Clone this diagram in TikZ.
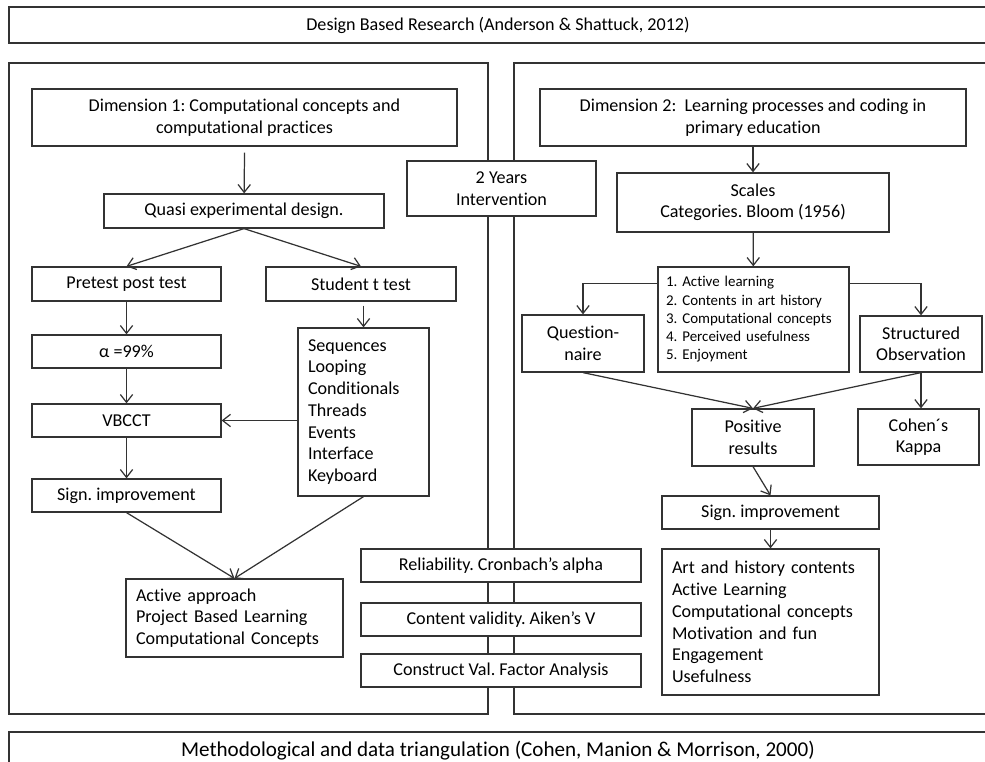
\documentclass[tikz,border=0pt]{standalone}
\usepackage{fontspec}
\setmainfont{Carlito}[Ligatures=NoCommon]
\frenchspacing
\usetikzlibrary{arrows.meta,calc}

\begin{document}
\begin{tikzpicture}[
    box/.style={draw=black!80, line width=0.7pt, fill=white, inner sep=1pt, align=center, font=\fontsize{10.3}{12.2}\selectfont, minimum height=0.66cm},
    lst/.style={box, align=left, inner xsep=0.2cm, font=\fontsize{10.3}{12.4}\selectfont},
    small/.style={lst, inner xsep=0.16cm, font=\fontsize{8.5}{10.4}\selectfont},
    panel/.style={draw=black!80, line width=0.7pt},
    arr/.style={-{Straight Barb[length=4.5pt,width=7pt]}, draw=black!80, line width=0.7pt}
]
\useasboundingbox (0,0) rectangle (19.7,-15.22);
\clip (0,0) rectangle (19.7,-15.22);

% frames
\node[box, minimum width=19.56cm, minimum height=0.72cm] (dbr) at (9.96,-0.50) {Design Based Research (Anderson \& Shattuck, 2012)};
\draw[panel] (0.18,-1.26) rectangle (9.76,-14.28);
\draw[panel] (10.28,-1.26) rectangle (20.2,-14.28);
\node[box, minimum width=19.56cm, minimum height=0.76cm, font=\fontsize{12}{14}\selectfont] (triang) at (9.96,-15.02) {Methodological and data triangulation (Cohen, Manion \& Morrison, 2000)};

% dimension 1
\node[box, minimum width=8.5cm, minimum height=1.14cm] (dim1) at (4.89,-2.35) {Dimension 1: Computational concepts and\\computational practices};
\node[box, minimum width=5.6cm, minimum height=0.68cm] (quasi) at (4.88,-4.22) {Quasi experimental design.};
\node[box, minimum width=3.78cm, minimum height=0.68cm] (pretest) at (2.53,-5.68) {Pretest post test};
\node[box, minimum width=3.8cm, minimum height=0.68cm] (student) at (7.22,-5.68) {Student t test};
\node[box, minimum width=3.78cm] (alpha) at (2.53,-7.03) {α =99\%};
\node[box, minimum width=3.78cm] (vbcct) at (2.53,-8.41) {VBCCT};
\node[box, minimum width=3.78cm] (signl) at (2.53,-9.91) {Sign. improvement};
\node[lst, text width=2.22cm, minimum height=3.36cm] (seq) at (7.27,-8.24) {Sequences\\Looping\\Conditionals\\Threads\\Events\\Interface\\Keyboard};
\node[lst, text width=3.94cm, minimum height=1.56cm] (active) at (4.69,-12.36) {Active approach\\Project Based Learning\\Computational Concepts};

% middle column
\node[box, minimum width=3.78cm, minimum height=1.1cm] (years) at (10.03,-3.77) {2 Years\\Intervention};
\node[box, minimum width=5.6cm] (rel) at (10.02,-11.31) {Reliability. Cronbach’s alpha};
\node[box, minimum width=5.6cm] (valid) at (10.02,-12.39) {Content validity. Aiken’s V};
\node[box, minimum width=5.6cm] (constr) at (10.02,-13.41) {Construct Val. Factor Analysis};

% dimension 2
\node[box, minimum width=8.52cm, minimum height=1.14cm] (dim2) at (15.06,-2.35) {Dimension 2:\ \ Learning processes and coding in\\primary education};
\node[box, minimum width=5.44cm, minimum height=1.18cm] (scales) at (15.06,-4.05) {Scales\\Categories. Bloom (1956)};
\node[small, text width=3.5cm, minimum height=2.1cm] (list) at (15.07,-6.39) {1. Active learning\\2. Contents in art history\\3. Computational concepts\\4. Perceived usefulness\\5. Enjoyment};
\node[box, minimum width=2.44cm, minimum height=1.14cm] (quest) at (11.66,-6.87) {Question-\\naire};
\node[box, minimum width=2.44cm, minimum height=1.12cm] (struct) at (18.42,-6.88) {Structured\\Observation};
\node[box, minimum width=2.44cm, minimum height=1.14cm] (pos) at (15.06,-8.75) {Positive\\results};
\node[box, minimum width=2.42cm, minimum height=1.12cm] (cohen) at (18.37,-8.74) {Cohen´s\\Kappa};
\node[box, minimum width=4.34cm] (signr) at (15.41,-10.25) {Sign. improvement};
\node[lst, text width=3.94cm, minimum height=2.92cm] (art) at (15.41,-12.44) {Art and history contents\\Active Learning\\Computational concepts\\Motivation and fun\\Engagement\\Usefulness};

% arrows left
\draw[arr] ([yshift=-0.12cm]dim1.south) -- (quasi);
\draw[arr] (quasi.south) -- (pretest.north);
\draw[arr] (quasi.south) -- (student.north);
\draw[arr] (pretest) -- (alpha);
\draw[arr] (alpha) -- (vbcct);
\draw[arr] (vbcct) -- (signl);
\draw[arr] ([yshift=-0.08cm]student.south -| seq.north) -- (seq.north);
\draw[arr] (seq.west |- vbcct) -- (vbcct.east);
\draw[arr] (signl.south) -- (active.north);
\draw[arr] (seq.south) -- (active.north);

% arrows right
\draw[arr] (dim2) -- (scales);
\draw[arr] (scales) -- (list);
\draw[arr] ([yshift=-0.34cm]list.north west) -| (quest.north);
\draw[arr] ([yshift=-0.34cm]list.north east) -| (struct.north);
\draw[arr] (quest.south) -- (pos.north);
\draw[arr] (struct.south) -- (pos.north);
\draw[arr] (struct.south) -- (struct.south |- cohen.north);
\draw[arr] (pos.south) -- (signr.north);
\draw[arr] (signr) -- (art);
\end{tikzpicture}
\end{document}
